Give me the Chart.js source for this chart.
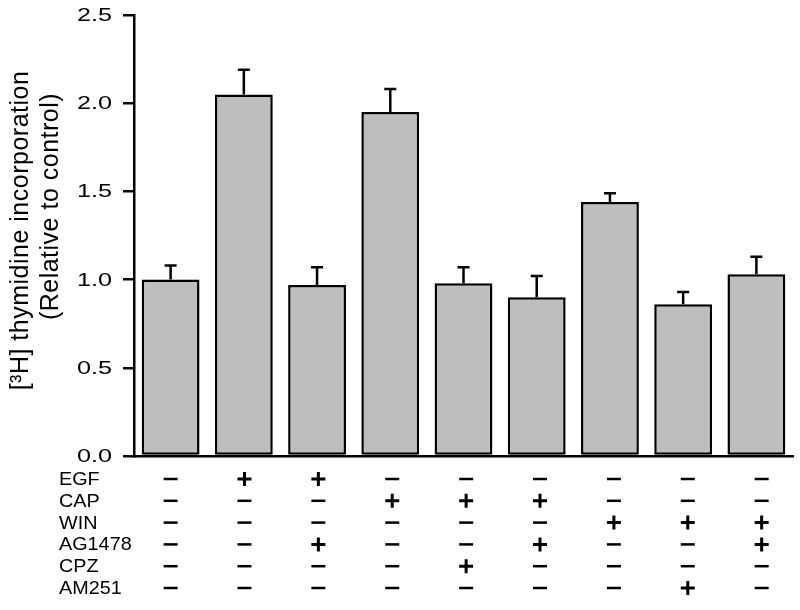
<!DOCTYPE html>
<html><head><meta charset="utf-8">
<script src="https://cdn.jsdelivr.net/npm/chart.js@4"></script>
<style>html,body{margin:0;padding:0;background:#fff}#wrap{width:800px;height:610px}</style>
</head><body><div id="wrap"><canvas id="c" width="800" height="610"></canvas></div>
<script>
const categories = ['1','2','3','4','5','6','7','8','9'];
const means = [1.00, 2.05, 0.97, 1.95, 0.98, 0.90, 1.44, 0.86, 1.03];
const errTop = [1.08, 2.19, 1.07, 2.08, 1.07, 1.02, 1.49, 0.93, 1.13];
const yTicks = [0, 0.5, 1.0, 1.5, 2.0, 2.5];
const yTitle = ['[³H] thymidine incorporation', '(Relative to control)'];
const rowLabels = ['EGF','CAP','WIN','AG1478','CPZ','AM251'];
const treatments = [
  ['-','+','+','-','-','-','-','-','-'],
  ['-','-','-','+','+','+','-','-','-'],
  ['-','-','-','-','-','-','+','+','+'],
  ['-','-','+','-','-','+','-','-','+'],
  ['-','-','-','-','+','-','-','-','-'],
  ['-','-','-','-','-','-','-','+','-']
];
const FONT = '"Liberation Sans", Arial, sans-serif';

function stretchText(ctx, txt, x, y, sx, align){
  ctx.save();
  ctx.translate(x, y);
  ctx.scale(sx, 1);
  ctx.textAlign = align;
  ctx.fillText(txt, 0, 0);
  ctx.restore();
}

const drawPlugin = {
  id:'extras',
  afterDatasetsDraw(chart){
    const ctx = chart.ctx, xs = chart.scales.x, ys = chart.scales.y;
    const ca = chart.chartArea;
    ctx.save();
    ctx.strokeStyle = '#000'; ctx.fillStyle = '#000';
    ctx.letterSpacing = '0px';
    // error bars
    ctx.lineWidth = 2.5;
    means.forEach((m,i)=>{
      const x = xs.getPixelForValue(i);
      const y0 = ys.getPixelForValue(m), y1 = ys.getPixelForValue(errTop[i]);
      ctx.beginPath(); ctx.moveTo(x,y0); ctx.lineTo(x,y1);
      ctx.moveTo(x-6,y1); ctx.lineTo(x+6,y1); ctx.stroke();
    });
    // y tick labels
    ctx.font = '18px ' + FONT;
    ctx.textBaseline = 'middle';
    yTicks.forEach(v=>{
      stretchText(ctx, v.toFixed(1), ca.left - 22, ys.getPixelForValue(v) + 1, 1.4, 'right');
    });
    // y title (rotated)
    ctx.font = '25px ' + FONT;
    ctx.letterSpacing = '0.5px';
    ctx.textAlign = 'center';
    const midY = (ca.top + ca.bottom) / 2;
    ctx.save(); ctx.translate(21, midY - 5); ctx.rotate(-Math.PI/2);
    ctx.fillText(yTitle[0], 0, 0); ctx.restore();
    ctx.save(); ctx.translate(51, midY - 29); ctx.rotate(-Math.PI/2);
    ctx.fillText(yTitle[1], 0, 0); ctx.restore();
    ctx.letterSpacing = '0px';
    // treatment table
    const c0 = xs.getPixelForValue(0);
    rowLabels.forEach((lab,r)=>{
      const y = ca.bottom + 23 + r*21.8;
      ctx.font = '18px ' + FONT;
      stretchText(ctx, lab, 59, y + 1, 1.1, 'left');
      treatments[r].forEach((s,i)=>{
        const x = c0 + (xs.getPixelForValue(i) - c0) * 1.009;
        ctx.beginPath();
        if (s === '+') {
          ctx.lineWidth = 3;
          ctx.moveTo(x-7,y); ctx.lineTo(x+7,y);
          ctx.moveTo(x,y-7); ctx.lineTo(x,y+7);
        } else {
          ctx.lineWidth = 2.5;
          ctx.moveTo(x-7,y); ctx.lineTo(x+7,y);
        }
        ctx.stroke();
      });
    });
    ctx.restore();
  }
};

new Chart(document.getElementById('c'), {
  type:'bar',
  data:{labels:categories, datasets:[{data:means, backgroundColor:'#bebebe', borderColor:'#000', borderWidth:2.5, borderSkipped:false, barPercentage:0.79, categoryPercentage:1}]},
  options:{
    responsive:false, animation:false,
    layout:{padding:{top:15,right:7,bottom:154,left:0}},
    plugins:{legend:{display:false}, tooltip:{enabled:false}},
    scales:{
      x:{ticks:{display:false}, grid:{display:false, drawTicks:false}, border:{color:'#000', width:2.5}},
      y:{min:0,max:2.5,
         afterBuildTicks(s){ s.ticks = yTicks.map(v=>({value:v})); },
         afterFit(s){ s.width = 134; },
         ticks:{display:false},
         grid:{drawOnChartArea:false, drawTicks:true, tickLength:11, color:'#000', lineWidth:2.5},
         border:{color:'#000', width:2.5}
      }
    }
  },
  plugins:[drawPlugin]
});
</script></body></html>
